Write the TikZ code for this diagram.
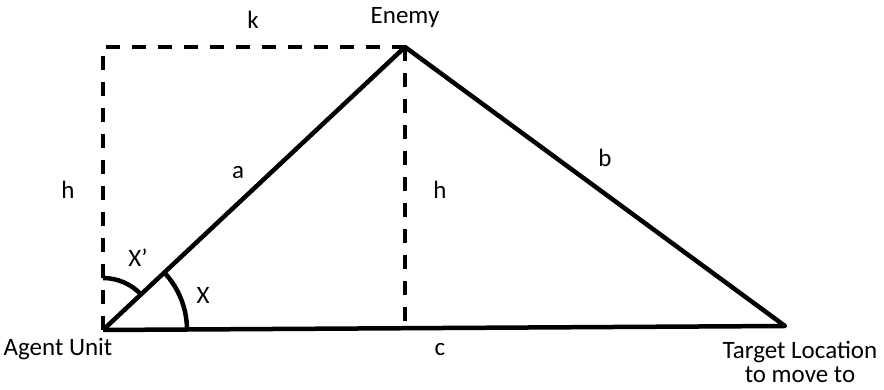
\documentclass[tikz,border=0pt]{standalone}
\usepackage{fontspec}
\setmainfont{Carlito}
\begin{document}
\begin{tikzpicture}[x=1pt, y=1pt, line width=4.5pt, line join=round, font=\fontsize{25}{24}\selectfont]
	\useasboundingbox (0,0) rectangle (884,390);
	\coordinate (agent) at (103,60);
	\coordinate (enemy) at (405,343);
	\coordinate (target) at (785,64);
	\coordinate (corner) at (103,343);
	\coordinate (foot) at (405,62);
	\draw [dash pattern=on 14pt off 12pt] (agent) -- (corner) -- (enemy);
	\draw [dash pattern=on 14pt off 12pt] (enemy) -- (foot);
	\draw (agent) -- (enemy) -- (target) -- (agent);
	\draw (agent) ++(84pt,0) arc [start angle=0, end angle=43, radius=84pt];
	\draw (agent) ++(0,52pt) arc [start angle=90, end angle=43, radius=52pt];
	\node (agentlbl) at (58,41) {Agent Unit};
	\node (enemylbl) at (405,372) {Enemy};
	\node [align=center] (targetlbl) at (800,28) {Target Location\\to move to};
	\node (k) at (253,370) {k};
	\node (hleft) at (68,200) {h};
	\node (hmid) at (440,200) {h};
	\node (a) at (238,217) {a};
	\node (b) at (605,232) {b};
	\node (c) at (440,40) {c};
	\node (xp) at (138,132) {X’};
	\node (x) at (203,95) {X};
\end{tikzpicture}
\end{document}
